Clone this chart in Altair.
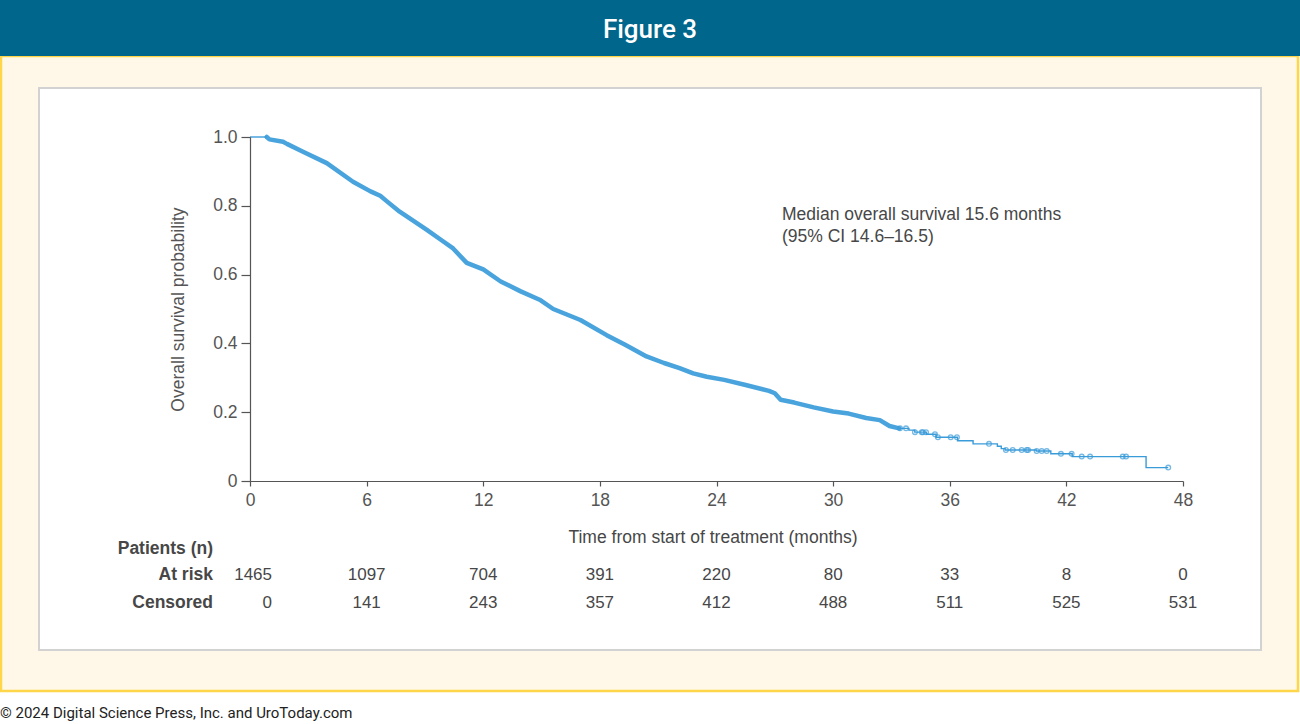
import altair as alt
import pandas as pd

# ---------------- survival curve (months, overall survival probability) ----------------
# flat opening segment before the first event
start_time = [0.0, 0.86]
start_surv = [1.0, 1.0]

# densely populated part of the Kaplan-Meier estimate
dense_time = [0.86, 1.0, 1.7, 1.9, 2.7, 3.95, 5.3, 6.2, 6.7, 7.0,
              7.7, 9.1, 9.8, 10.45, 11.15, 12.0, 12.9, 13.9, 14.9, 15.6,
              17.0, 18.35, 19.3, 20.4, 21.3, 22.1, 22.8, 23.5, 24.4, 25.5,
              26.7, 27.0, 27.3, 28.0, 29.0, 30.0, 30.8, 31.7, 32.4, 32.9,
              33.4]
dense_surv = [1.0, 0.993, 0.986, 0.98, 0.958, 0.924, 0.870, 0.842, 0.829, 0.815,
              0.783, 0.730, 0.702, 0.676, 0.634, 0.615, 0.580, 0.552, 0.527, 0.500,
              0.468, 0.424, 0.396, 0.362, 0.343, 0.328, 0.313, 0.303, 0.294, 0.279,
              0.262, 0.255, 0.236, 0.228, 0.214, 0.202, 0.196, 0.183, 0.177, 0.160,
              0.153]

# sparse tail, drawn as steps
tail_time = [33.4, 33.9, 34.2, 34.8, 35.3, 36.4, 37.2, 38.45, 38.65, 38.85,
             40.45, 41.2, 42.3, 46.1, 47.24]
tail_surv = [0.153, 0.148, 0.142, 0.136, 0.127, 0.117, 0.108, 0.101, 0.094, 0.090,
             0.087, 0.079, 0.071, 0.039, 0.039]

# censoring times in the tail
censor_time = [33.44, 33.75, 34.21, 34.56, 34.62, 34.78, 35.24, 35.39, 36.05, 36.37,
               38.02, 38.89, 39.24, 39.70, 39.96, 40.03, 40.47, 40.73, 40.99, 41.72,
               42.27, 42.79, 43.22, 44.90, 45.07, 47.24]

# ---------------- numbers-at-risk table ----------------
table_month = [0, 6, 12, 18, 24, 30, 36, 42, 48]
at_risk = [1465, 1097, 704, 391, 220, 80, 33, 8, 0]
censored = [0, 141, 243, 357, 412, 488, 511, 525, 531]

x_ticks = [0, 6, 12, 18, 24, 30, 36, 42, 48]
y_ticks = [0, 0.2, 0.4, 0.6, 0.8, 1.0]

header_text = "Figure 3"
median_lines = ["Median overall survival 15.6 months", "(95% CI 14.6\u201316.5)"]
x_title = "Time from start of treatment (months)"
y_title = "Overall survival probability"
table_heading = "Patients (n)"
row_names = ["At risk", "Censored"]
footer_text = "\u00a9 2024 Digital Science Press, Inc. and UroToday.com"

# ---------------- frames ----------------
curve = pd.concat([
    pd.DataFrame({"time": start_time, "surv": start_surv, "part": "start"}),
    pd.DataFrame({"time": dense_time, "surv": dense_surv, "part": "dense"}),
    pd.DataFrame({"time": tail_time, "surv": tail_surv, "part": "tail"}),
], ignore_index=True)


def surv_at(t):
    level = tail_surv[0]
    for tt, ss in zip(tail_time, tail_surv):
        if tt <= t:
            level = ss
    return level


censor = pd.DataFrame({"time": censor_time, "surv": [surv_at(t) for t in censor_time]})
table = pd.DataFrame({
    "time": table_month,
    "at_risk": [str(v) for v in at_risk],
    "censored": [str(v) for v in censored],
})
one = pd.DataFrame({"k": [0]})

# ---------------- layout ----------------
CANVAS_W, CANVAS_H = 1300, 724
LEFT, TOP = 250, 137
PLOT_W, PLOT_H = 933, 344

BLUE = "#3A9BD9"
AXIS_GREY = "#555555"
TEXT_GREY = "#474747"
FONT = "Liberation Sans"
FS = 17.5


def px(x):
    return x - LEFT


def py(y):
    return y - TOP


def box(x0, y0, x1, y1, **mark):
    return alt.Chart(one).mark_rect(**mark).encode(
        x=alt.value(px(x0)), x2=alt.value(px(x1)),
        y=alt.value(py(y0)), y2=alt.value(py(y1)),
    )


def label(x, y, text, **mark):
    return alt.Chart(one).mark_text(baseline="middle", **mark).encode(
        x=alt.value(px(x)), y=alt.value(py(y)), text=alt.value(text)
    )


x_scale = alt.Scale(domain=[0, 48], nice=False, zero=False)
y_scale = alt.Scale(domain=[0, 1], nice=False)

x_axis = alt.Axis(
    values=x_ticks, title=None, grid=False, tickSize=5, labelPadding=5,
    labelFontSize=FS, labelColor=AXIS_GREY, labelFont=FONT,
    domainColor=AXIS_GREY, tickColor=AXIS_GREY, domainWidth=1.2, tickWidth=1.2,
    labelFlush=False, zindex=1,
)
y_axis = alt.Axis(
    values=y_ticks, grid=False, tickSize=9, labelPadding=4,
    labelExpr="datum.value == 0 ? '0' : format(datum.value, '.1f')",
    labelFontSize=FS, labelColor=AXIS_GREY, labelFont=FONT,
    domainColor=AXIS_GREY, tickColor=AXIS_GREY, domainWidth=1.2, tickWidth=1.2,
    title=y_title, titleFont=FONT, titleFontSize=FS, titleFontWeight="normal",
    titleColor=AXIS_GREY, titleX=-72, titleY=172, titleAngle=270,
    titleAlign="center", titleBaseline="middle", zindex=1,
)
X = alt.X("time:Q", scale=x_scale, axis=x_axis)
Y = alt.Y("surv:Q", scale=y_scale, axis=y_axis)

# frame: cream panel, header band, white plot card
panel = box(1, 56, 1298, 691, fill="#FFF8E8", stroke="#FFD54A", strokeWidth=2.5)
header = box(0, 0, 1300, 56, fill="#00668B")
card = box(39, 88, 1261, 650, fill="#FFFFFF", stroke="#D2D2D2", strokeWidth=2)

header_label = label(650, 30, header_text, align="center", font="Roboto",
                     fontSize=26, fontWeight=500, color="#FFFFFF")
footer_label = label(0, 713, footer_text, align="left", font="Roboto",
                     fontSize=15, color="#222222")

# survival curve
thin_line = alt.Chart(curve).transform_filter("datum.part != 'dense'").mark_line(
    color=BLUE, strokeWidth=1.4, interpolate="step-after"
).encode(x=X, y=Y, detail="part:N")
thick_line = alt.Chart(curve).transform_filter("datum.part == 'dense'").mark_line(
    color=BLUE, strokeWidth=4.5, strokeCap="round", strokeJoin="round", opacity=0.92
).encode(x=X, y=Y)
censor_marks = alt.Chart(censor).mark_point(
    shape="circle", filled=False, size=22, strokeWidth=1.3, color=BLUE
).encode(x=X, y=Y)

# annotation and x title
median_1 = label(782, 215, median_lines[0], align="left", font=FONT, fontSize=FS, color=TEXT_GREY)
median_2 = label(782, 237, median_lines[1], align="left", font=FONT, fontSize=FS, color=TEXT_GREY)
x_title_label = label(713, 538, x_title, align="center", font=FONT, fontSize=FS, color=TEXT_GREY)

# numbers-at-risk table
heading = label(213, 549, table_heading, align="right", font=FONT, fontSize=FS,
                fontWeight="bold", color=TEXT_GREY)
row_layers = []
for name, field, ypix in [(row_names[0], "at_risk", 575), (row_names[1], "censored", 603)]:
    row_layers.append(label(213, ypix, name, align="right", font=FONT, fontSize=FS,
                            fontWeight="bold", color=TEXT_GREY))
    first = alt.Chart(table).transform_filter("datum.time == 0").mark_text(
        align="right", dx=22, baseline="middle", font=FONT, fontSize=17, color=TEXT_GREY
    ).encode(x=X, y=alt.value(py(ypix)), text=f"{field}:N")
    rest = alt.Chart(table).transform_filter("datum.time > 0").mark_text(
        align="center", baseline="middle", font=FONT, fontSize=17, color=TEXT_GREY
    ).encode(x=X, y=alt.value(py(ypix)), text=f"{field}:N")
    row_layers += [first, rest]

chart = alt.layer(
    panel, header, card, header_label, footer_label,
    thin_line, thick_line, censor_marks,
    median_1, median_2, x_title_label, heading, *row_layers,
).properties(
    width=PLOT_W,
    height=PLOT_H,
    autosize=alt.AutoSizeParams(type="none"),
    padding={"left": LEFT, "top": TOP,
             "right": CANVAS_W - LEFT - PLOT_W, "bottom": CANVAS_H - TOP - PLOT_H},
    background="#FFFFFF",
).configure_view(strokeWidth=0)

chart.save("out.html", embed_options={"renderer": "svg", "actions": False})
